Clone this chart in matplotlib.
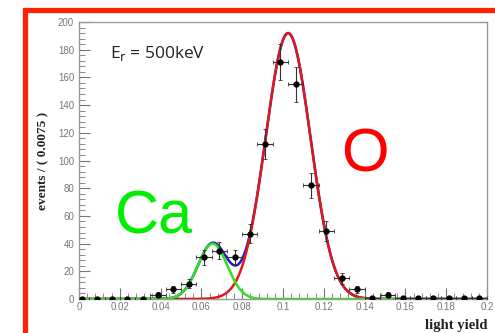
"""
Light yield spectrum at E_r = 500 keV with Ca and O gaussian fits.
"""

import numpy as np
import matplotlib.pyplot as plt
from matplotlib.patches import Rectangle
from matplotlib.ticker import MultipleLocator

# binned data (bin width 0.0075)
bin_centers = [0.00125, 0.00875, 0.01625, 0.02375, 0.03125, 0.03875, 0.04625,
               0.05375, 0.06125, 0.06875, 0.07625, 0.08375, 0.09125, 0.09875,
               0.10625, 0.11375, 0.12125, 0.12875, 0.13625, 0.14375, 0.15125,
               0.15875, 0.16625, 0.17375, 0.18125, 0.18875, 0.19625]
counts = [0, 0, 0, 0, 0, 3, 7, 11, 30, 35, 30, 47, 112, 171, 155, 82, 49,
          15, 7, 1, 3, 1, 1, 1, 1, 1, 1]
bin_half = 0.00375

# fit parameters (amplitude, mean, sigma)
ca_fit = (40.0, 0.0655, 0.0072)
o_fit = (192.0, 0.1025, 0.0110)


def gauss(x, amp, mu, sig):
    return amp * np.exp(-0.5 * ((x - mu) / sig) ** 2)


def main():
    fig = plt.figure(figsize=(4.95, 3.33), dpi=100)
    ax = fig.add_axes([0.1596, 0.1021, 0.8242, 0.8318])

    x = np.array(bin_centers)
    y = np.array(counts)
    yerr = np.sqrt(y)
    ax.errorbar(x, y, xerr=bin_half, yerr=yerr, fmt='o', color='black',
                ms=3.5, elinewidth=0.8, ecolor='#333333', capsize=1.5,
                capthick=0.6, zorder=5)

    xs = np.linspace(0, 0.2, 800)
    ca = gauss(xs, *ca_fit)
    o = gauss(xs, *o_fit)
    ax.plot(xs, ca + o, color='#1a1acc', lw=1.8, zorder=2)
    ax.plot(xs, o, color='#dd1a1a', lw=1.8, zorder=3)
    ax.plot(xs, ca, color='#33dd22', lw=1.8, zorder=4)

    ax.set_xlim(0, 0.2)
    ax.set_ylim(0, 200)
    ax.xaxis.set_major_locator(MultipleLocator(0.02))
    ax.xaxis.set_minor_locator(MultipleLocator(0.004))
    ax.yaxis.set_major_locator(MultipleLocator(20))
    ax.yaxis.set_minor_locator(MultipleLocator(4))
    ax.tick_params(which='both', direction='in', colors='#777777',
                   labelsize=7, top=False, right=False)
    ax.tick_params(which='major', length=8, width=0.8)
    ax.tick_params(which='minor', length=4, width=0.6)
    ax.tick_params(axis='x', pad=2)
    ax.set_xticks([0, 0.02, 0.04, 0.06, 0.08, 0.1, 0.12, 0.14, 0.16, 0.18, 0.2])
    ax.set_xticklabels(['0', '0.02', '0.04', '0.06', '0.08', '0.1', '0.12',
                        '0.14', '0.16', '0.18', '0.2'])
    for lbl in ax.get_xticklabels() + ax.get_yticklabels():
        lbl.set_family('Liberation Sans')
    for side in ax.spines.values():
        side.set_color('#999999')
        side.set_linewidth(1.0)

    ax.set_ylabel('events / ( 0.0075 )', family='Liberation Serif',
                  fontweight='bold', fontsize=9.5, color='#222222', labelpad=6)
    fig.text(0.985, 0.012, 'light yield', family='Liberation Serif',
             fontweight='bold', fontsize=10.5, color='#222222', ha='right')

    ax.text(0.075, 0.87, r'E$_\mathrm{r}$ = 500keV', transform=ax.transAxes,
            fontsize=12.5, family='Open Sans', color='#222222')
    fig.text(0.232, 0.30, 'Ca', fontsize=44, color='#00ee00',
             family='Liberation Sans')
    fig.text(0.690, 0.485, 'O', fontsize=44, color='#ff0000',
             family='Liberation Sans')

    # red frame around the plot, running off the right and bottom
    fig.patches.append(Rectangle((24.5 / 495, -0.1), 1.1, 0.1 + (333 - 9.5) / 333,
                                 transform=fig.transFigure, fill=False,
                                 edgecolor='#ff2200', lw=3.8, zorder=0))

    plt.savefig('out.png', dpi=100)


if __name__ == "__main__":
    main()
